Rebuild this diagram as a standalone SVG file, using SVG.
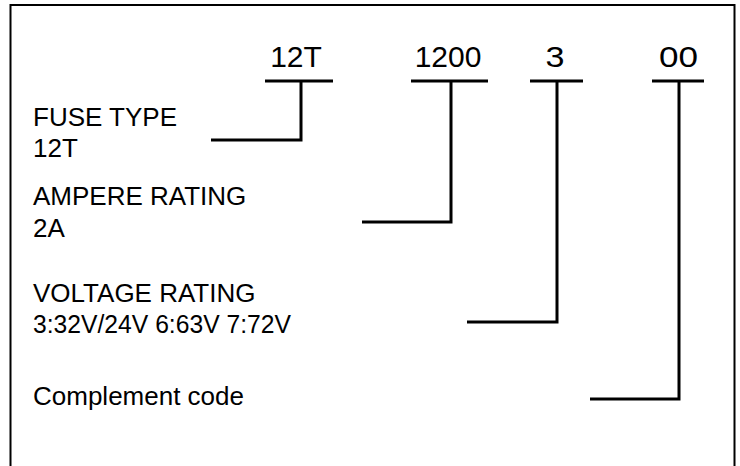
<svg xmlns="http://www.w3.org/2000/svg" width="740" height="466" viewBox="0 0 740 466">
<style>
.lbl{font-family:"Liberation Sans",Arial,sans-serif;font-size:26px;fill:#000}
.code{font-family:"Liberation Sans",Arial,sans-serif;font-size:30px;fill:#000;text-anchor:middle}
.ln{fill:none;stroke:#000;stroke-width:3;stroke-linecap:butt;stroke-linejoin:miter}
</style>
<rect width="740" height="466" fill="#fff"/>
<path d="M10.5,466 V5 H734.5 V466" fill="none" stroke="#000" stroke-width="2"/>
<g id="code-12T"><text class="code" x="296" y="67">12T</text><line class="ln" x1="265" y1="81" x2="333" y2="81"/></g>
<g id="code-1200"><text class="code" x="448" y="67">1200</text><line class="ln" x1="411" y1="81" x2="488" y2="81"/></g>
<g id="code-3"><text class="code" x="555" y="67" textLength="19" lengthAdjust="spacingAndGlyphs">3</text><line class="ln" x1="530" y1="81" x2="583" y2="81"/></g>
<g id="code-00"><text class="code" x="678.5" y="67" textLength="39" lengthAdjust="spacingAndGlyphs">00</text><line class="ln" x1="652" y1="81" x2="704" y2="81"/></g>
<g id="fuse-type"><text class="lbl" x="33" y="126">FUSE TYPE</text><text class="lbl" x="33" y="157">12T</text></g>
<g id="ampere-rating"><text class="lbl" x="33" y="205">AMPERE RATING</text><text class="lbl" x="33" y="237">2A</text></g>
<g id="voltage-rating"><text class="lbl" x="33" y="302">VOLTAGE RATING</text><text class="lbl" x="33" y="333" textLength="258" lengthAdjust="spacingAndGlyphs">3:32V/24V 6:63V 7:72V</text></g>
<g id="complement-code"><text class="lbl" x="33" y="405">Complement code</text></g>
<g id="connectors">
<polyline class="ln" points="211,140 301,140 301,81"/>
<polyline class="ln" points="362,222 451,222 451,81"/>
<polyline class="ln" points="467,322 557,322 557,81"/>
<polyline class="ln" points="590,399 679,399 679,81"/>
</g>
</svg>
